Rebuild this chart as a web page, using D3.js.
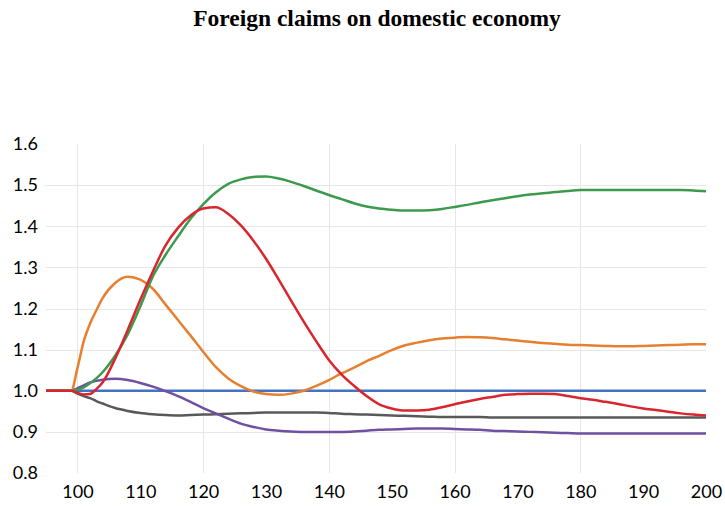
<!DOCTYPE html>
<html lang="en">
<head>
    <meta charset="UTF-8">
    <title>Foreign claims on domestic economy</title>
    <script src="https://d3js.org/d3.v7.min.js"></script>
    <style>
        body {
            margin: 0;
            background: #fff;
        }
        .title {
            font-family: "Liberation Serif", "Times New Roman", serif;
            font-weight: bold;
            font-size: 23.5px;
        }
        .tick-label {
            font-family: Lato, "Open Sans", sans-serif;
            font-size: 18px;
            fill: #000;
        }
    </style>
</head>
<body>
    <svg id="chart" width="725" height="506"></svg>
    <script>
        const width = 725;
        const height = 506;
        const margin = {top: 144, right: 19, bottom: 33, left: 46};

        // periods
        const periods = [95, 99, 100, 101, 102, 103, 104, 106, 108, 110, 112, 114, 116, 118, 120,
            122, 124, 126, 128, 130, 132, 134, 136, 138, 140, 142, 144, 146, 148, 150,
            152, 154, 156, 158, 160, 162, 164, 166, 168, 170, 172, 174, 176, 178, 180,
            182, 184, 186, 188, 190, 192, 194, 196, 198, 200];

        const baseline = periods.map(() => 1.0);

        const green = [1, 1, 1.002, 1.008, 1.018, 1.03, 1.045, 1.085, 1.137, 1.205, 1.278, 1.33, 1.375, 1.418, 1.453,
            1.482, 1.503, 1.514, 1.520, 1.521, 1.516, 1.508, 1.498, 1.487, 1.476, 1.466, 1.456, 1.448, 1.443, 1.440,
            1.438, 1.438, 1.439, 1.442, 1.447, 1.452, 1.458, 1.463, 1.468, 1.473, 1.477, 1.480, 1.483, 1.486, 1.488,
            1.488, 1.488, 1.488, 1.488, 1.488, 1.488, 1.488, 1.488, 1.487, 1.485];

        const red = [1, 1, 0.995, 0.991, 0.992, 1.004, 1.02, 1.078, 1.148, 1.221, 1.29, 1.353, 1.396, 1.426, 1.443,
            1.446, 1.430, 1.402, 1.365, 1.321, 1.271, 1.219, 1.168, 1.120, 1.075, 1.040, 1.012, 0.987, 0.967, 0.957,
            0.952, 0.952, 0.954, 0.960, 0.967, 0.974, 0.980, 0.985, 0.990, 0.992, 0.993, 0.993, 0.992, 0.987, 0.982,
            0.978, 0.973, 0.968, 0.962, 0.957, 0.953, 0.949, 0.945, 0.942, 0.940];

        const orange = [1, 1, 1.055, 1.12, 1.163, 1.195, 1.225, 1.262, 1.277, 1.27, 1.248, 1.210, 1.172, 1.134, 1.095,
            1.058, 1.030, 1.011, 0.998, 0.992, 0.990, 0.993, 1.0, 1.012, 1.026, 1.042, 1.056, 1.072, 1.085, 1.099,
            1.110, 1.117, 1.123, 1.127, 1.129, 1.131, 1.130, 1.128, 1.125, 1.122, 1.119, 1.116, 1.114, 1.112, 1.111,
            1.110, 1.109, 1.108, 1.108, 1.109, 1.110, 1.111, 1.112, 1.113, 1.113];

        const purple = [1, 1, 1.006, 1.013, 1.02, 1.024, 1.027, 1.029, 1.026, 1.019, 1.01, 0.999, 0.987, 0.973, 0.958,
            0.945, 0.932, 0.920, 0.912, 0.906, 0.903, 0.901, 0.900, 0.900, 0.900, 0.900, 0.901, 0.903, 0.905, 0.906,
            0.907, 0.908, 0.908, 0.908, 0.907, 0.906, 0.905, 0.903, 0.902, 0.901, 0.900, 0.899, 0.898, 0.897, 0.896,
            0.896, 0.896, 0.896, 0.896, 0.896, 0.896, 0.896, 0.896, 0.896, 0.896];

        const gray = [1, 1, 0.993, 0.987, 0.982, 0.975, 0.969, 0.958, 0.951, 0.946, 0.943, 0.941, 0.940, 0.941, 0.942,
            0.943, 0.944, 0.945, 0.946, 0.947, 0.947, 0.947, 0.947, 0.947, 0.946, 0.944, 0.943, 0.942, 0.941, 0.940,
            0.939, 0.938, 0.937, 0.936, 0.936, 0.936, 0.936, 0.935, 0.935, 0.935, 0.935, 0.935, 0.935, 0.935, 0.935,
            0.935, 0.935, 0.935, 0.935, 0.935, 0.935, 0.935, 0.935, 0.935, 0.935];

        const xTicks = [100, 110, 120, 130, 140, 150, 160, 170, 180, 190, 200];
        const xGrid = [100, 120, 140, 160, 180];
        const yTicks = [0.8, 0.9, 1.0, 1.1, 1.2, 1.3, 1.4, 1.5, 1.6];
        const yGrid = [0.9, 1.0, 1.1, 1.2, 1.3, 1.4, 1.5];

        // drawing order: later ones end up on top
        const series = [
            {values: baseline, color: "#4472C4"},
            {values: gray, color: "#595959"},
            {values: purple, color: "#7050A0"},
            {values: orange, color: "#E67F30"},
            {values: green, color: "#3B9A4E"},
            {values: red, color: "#D8262E"}
        ];

        const svg = d3.select("#chart");

        const x = d3.scaleLinear()
            .domain([95, 200])
            .range([margin.left, width - margin.right]);

        const y = d3.scaleLinear()
            .domain([0.8, 1.6])
            .range([height - margin.bottom, margin.top]);

        svg.append("text")
            .attr("class", "title")
            .attr("x", 377)
            .attr("y", 26)
            .attr("text-anchor", "middle")
            .text("Foreign claims on domestic economy");

        // grid
        svg.append("g")
            .selectAll("line")
            .data(yGrid)
            .enter()
            .append("line")
            .attr("x1", x(95))
            .attr("x2", x(200))
            .attr("y1", d => Math.round(y(d)) + 0.5)
            .attr("y2", d => Math.round(y(d)) + 0.5)
            .attr("stroke", "#e6e6e6")
            .attr("stroke-width", 1);

        svg.append("g")
            .selectAll("line")
            .data(xGrid)
            .enter()
            .append("line")
            .attr("x1", d => Math.round(x(d)) + 0.5)
            .attr("x2", d => Math.round(x(d)) + 0.5)
            .attr("y1", y(1.6))
            .attr("y2", y(0.8))
            .attr("stroke", "#e6e6e6")
            .attr("stroke-width", 1);

        // axes, domain and ticks hidden, labels only
        const yAxis = svg.append("g")
            .attr("transform", `translate(${margin.left},0)`)
            .call(d3.axisLeft(y).tickValues(yTicks).tickFormat(d3.format(".1f")).tickSize(0).tickPadding(8));
        yAxis.select(".domain").remove();
        yAxis.selectAll("text").attr("class", "tick-label").attr("font-size", null).attr("font-family", null);

        const xAxis = svg.append("g")
            .attr("transform", `translate(0,${height - margin.bottom})`)
            .call(d3.axisBottom(x).tickValues(xTicks).tickFormat(d3.format("d")).tickSize(0).tickPadding(12));
        xAxis.select(".domain").remove();
        xAxis.selectAll("text").attr("class", "tick-label").attr("font-size", null).attr("font-family", null);

        const line = d3.line()
            .x((d, i) => x(periods[i]))
            .y(d => y(d))
            .curve(d3.curveMonotoneX);

        svg.append("g")
            .selectAll("path")
            .data(series)
            .enter()
            .append("path")
            .attr("d", d => line(d.values))
            .attr("fill", "none")
            .attr("stroke", d => d.color)
            .attr("stroke-width", 2.5)
            .attr("stroke-linejoin", "round");
    </script>
</body>
</html>
